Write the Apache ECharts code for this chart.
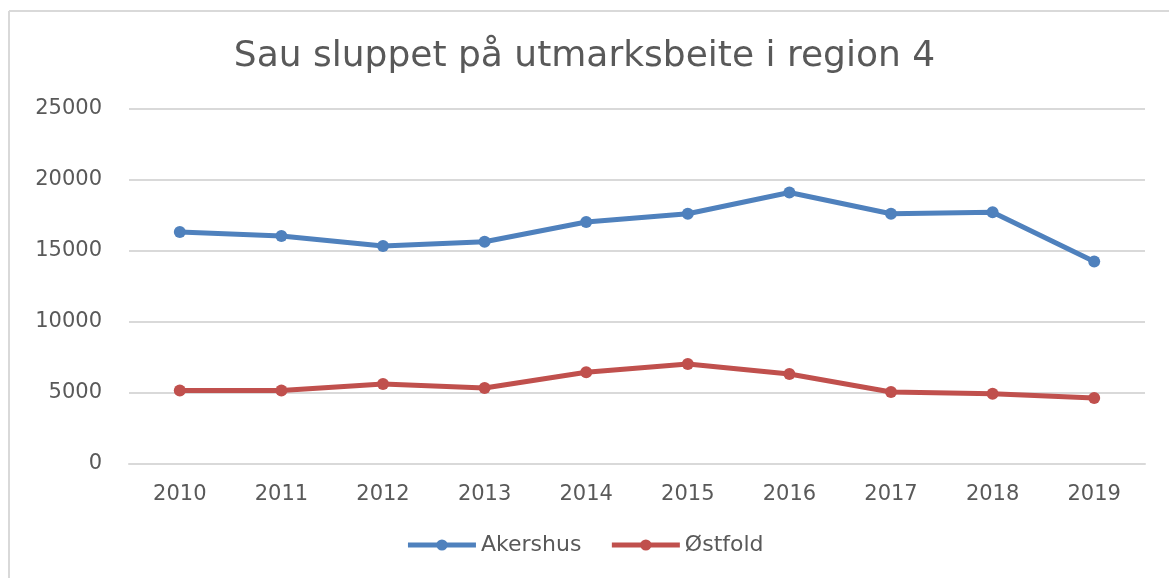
<!DOCTYPE html>
<html>
<head>
<meta charset="utf-8">
<script src="https://cdn.jsdelivr.net/npm/echarts@6/dist/echarts.min.js"></script>
<style>
  html, body { margin: 0; padding: 0; background: #fff; overflow: hidden; }
  #chart { width: 1169px; height: 578px; }
</style>
</head>
<body>
<div id="chart"></div>
<script>
// årstall og verdier lest av figuren
var years = ["2010", "2011", "2012", "2013", "2014", "2015", "2016", "2017", "2018", "2019"];
var akershus = [16340, 16060, 15350, 15650, 17040, 17620, 19120, 17620, 17730, 14260];
var ostfold = [5180, 5180, 5630, 5350, 6460, 7040, 6340, 5070, 4950, 4650];
var seriesNames = ["Akershus", "Østfold"];
var colors = ["#4F81BD", "#C0504D"];

var myChart = echarts.init(document.getElementById("chart"));
var option = {
  color: colors,
  animation: false,
  // ramme oppe og til venstre, som i utklippet
  graphic: [
    { type: "line", shape: { x1: 9, y1: 11, x2: 1169, y2: 11 }, style: { stroke: "#d9d9d9", lineWidth: 2 } },
    { type: "line", shape: { x1: 9, y1: 11, x2: 9, y2: 578 }, style: { stroke: "#d9d9d9", lineWidth: 2 } }
  ],
  title: {
    text: "Sau sluppet på utmarksbeite i region 4",
    left: "center",
    top: 34,
    textStyle: { color: "#595959", fontSize: 36, fontWeight: "normal", fontFamily: "DejaVu Sans" }
  },
  legend: {
    data: seriesNames,
    bottom: 17,
    left: "center",
    itemWidth: 68,
    itemHeight: 14,
    itemGap: 28,
    lineStyle: { width: 5 },
    textStyle: { color: "#595959", fontSize: 22, fontFamily: "DejaVu Sans" }
  },
  grid: { left: 129, right: 24, top: 109, bottom: 114 },
  xAxis: {
    type: "category",
    data: years,
    boundaryGap: true,
    axisLine: { show: true, lineStyle: { color: "#d9d9d9", width: 2 } },
    axisTick: { show: false },
    axisLabel: { color: "#595959", fontSize: 21, margin: 20, fontFamily: "DejaVu Sans" }
  },
  yAxis: {
    type: "value",
    min: 0,
    max: 25000,
    interval: 5000,
    axisLine: { show: false },
    axisTick: { show: false },
    axisLabel: { color: "#595959", fontSize: 21, margin: 27, fontFamily: "DejaVu Sans",
      formatter: function (v) { return String(v); } },
    splitLine: { lineStyle: { color: "#d9d9d9", width: 2 } }
  },
  series: [
    {
      name: seriesNames[0], type: "line", data: akershus,
      symbol: "circle", symbolSize: 12,
      lineStyle: { width: 5 }
    },
    {
      name: seriesNames[1], type: "line", data: ostfold,
      symbol: "circle", symbolSize: 12,
      lineStyle: { width: 5 }
    }
  ]
};
myChart.setOption(option);
</script>
</body>
</html>
